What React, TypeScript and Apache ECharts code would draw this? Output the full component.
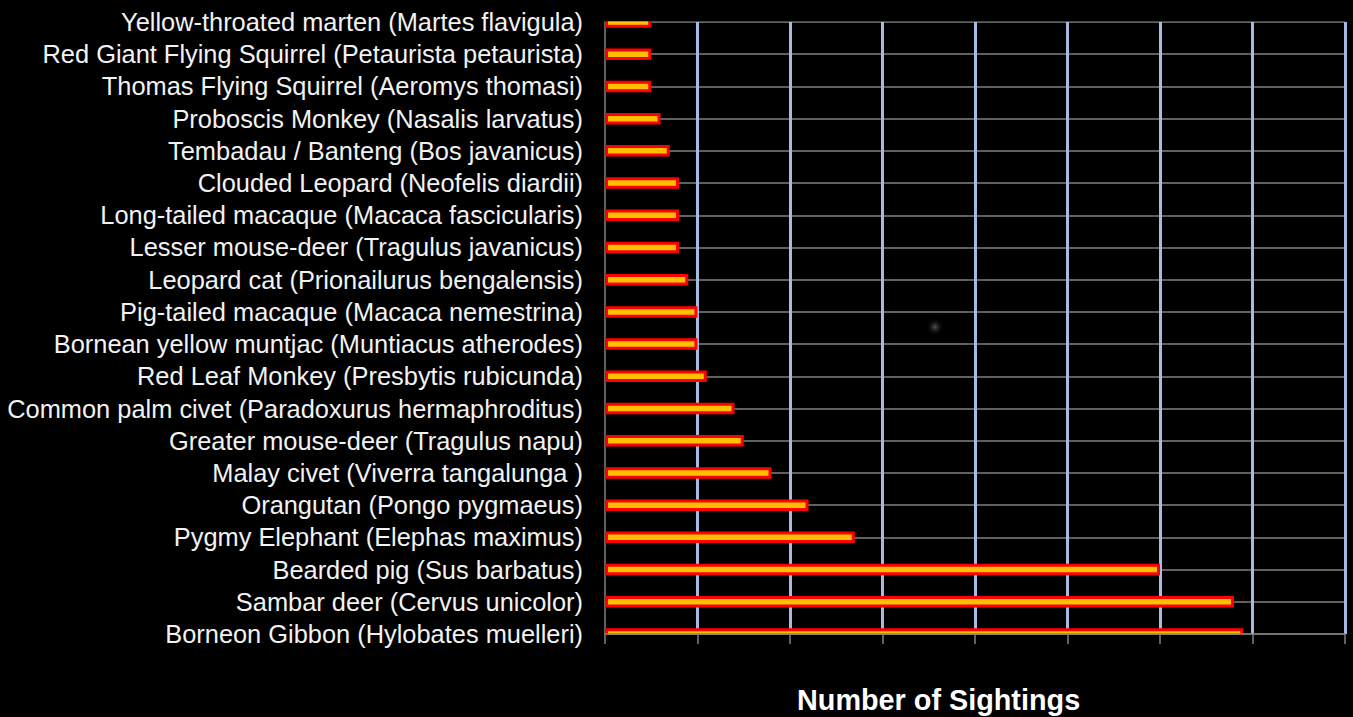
import React, { useEffect, useRef } from "react";
import * as echarts from "echarts";

const categories: string[] = [
  "Yellow-throated marten (Martes flavigula)",
  "Red Giant Flying Squirrel (Petaurista petaurista)",
  "Thomas Flying Squirrel (Aeromys thomasi)",
  "Proboscis Monkey (Nasalis larvatus)",
  "Tembadau / Banteng (Bos javanicus)",
  "Clouded Leopard (Neofelis diardii)",
  "Long-tailed macaque (Macaca fascicularis)",
  "Lesser mouse-deer (Tragulus javanicus)",
  "Leopard cat (Prionailurus bengalensis)",
  "Pig-tailed macaque (Macaca nemestrina)",
  "Bornean yellow muntjac (Muntiacus atherodes)",
  "Red Leaf Monkey (Presbytis rubicunda)",
  "Common palm civet (Paradoxurus hermaphroditus)",
  "Greater mouse-deer (Tragulus napu)",
  "Malay civet (Viverra tangalunga )",
  "Orangutan (Pongo pygmaeus)",
  "Pygmy Elephant (Elephas maximus)",
  "Bearded pig (Sus barbatus)",
  "Sambar deer (Cervus unicolor)",
  "Borneon Gibbon (Hylobates muelleri)",
];

const sightings: number[] = [5, 5, 5, 6, 7, 8, 8, 8, 9, 10, 10, 11, 14, 15, 18, 22, 27, 60, 68, 69];

const axisMin = 0;
const axisMax = 80;
const axisInterval = 10;
const xTitle = "Number of Sightings";

export default function App() {
  const ref = useRef<HTMLDivElement>(null);
  useEffect(() => {
    if (!ref.current) return;
    const chart = echarts.init(ref.current, null, { renderer: "svg" });
    chart.setOption({
      animation: false,
      backgroundColor: "#000000",
      grid: { left: 605, right: 8, top: 22, bottom: 83, containLabel: false },
      title: {
        text: xTitle,
        left: 797,
        top: 685,
        padding: 0,
        textStyle: {
          color: "#FFFFFF",
          fontSize: 28.8,
          fontWeight: "bold",
          fontFamily: "Liberation Sans, Arial, sans-serif",
        },
      },
      graphic: [
        {
          type: "circle",
          shape: { cx: 935, cy: 327, r: 9 },
          silent: true,
          z: 0,
          style: {
            fill: {
              type: "radial",
              x: 0.5,
              y: 0.5,
              r: 0.5,
              colorStops: [
                { offset: 0, color: "rgba(90,90,90,0.9)" },
                { offset: 1, color: "rgba(0,0,0,0)" },
              ],
            },
          },
        },
        {
          type: "rect",
          silent: true,
          z: 10,
          shape: { x: 600, y: 0, width: 753, height: 21.2 },
          style: { fill: "#000000" },
        },
        {
          type: "rect",
          silent: true,
          z: 10,
          shape: { x: 600, y: 634.8, width: 753, height: 40 },
          style: { fill: "#000000" },
        },
      ],
      xAxis: [
        {
          type: "value",
          min: axisMin,
          max: axisMax,
          interval: axisInterval,
          axisLabel: { show: false },
          axisLine: { show: false },
          axisTick: { show: false },
          splitLine: {
            show: true,
            showMinLine: false,
            lineStyle: { color: "#A6BBE0", width: 3 },
          },
        },
        {
          type: "value",
          position: "bottom",
          min: axisMin,
          max: axisMax,
          interval: axisInterval,
          z: 20,
          axisLabel: { show: false },
          axisLine: { show: true, lineStyle: { color: "#808080", width: 1.5 } },
          axisTick: { show: true, length: 10, lineStyle: { color: "#808080", width: 1.5 } },
          splitLine: { show: false },
        },
      ],
      yAxis: {
        type: "category",
        data: categories,
        inverse: true,
        boundaryGap: false,
        axisLine: { show: true, lineStyle: { color: "#808080", width: 1.5 } },
        axisTick: { show: false },
        splitLine: { show: true, lineStyle: { color: "#808080", width: 1.5 } },
        axisLabel: {
          color: "#F2F2F2",
          fontSize: 25.4,
          fontFamily: "Liberation Sans, Arial, sans-serif",
          margin: 22,
          interval: 0,
        },
      },
      series: [
        {
          type: "bar",
          xAxisIndex: 0,
          data: sightings,
          barWidth: 11.5,
          clip: false,
          itemStyle: {
            color: "#FFC000",
            borderColor: "#FF0000",
            borderWidth: 3,
          },
        },
      ],
    });
    return () => chart.dispose();
  }, []);
  return (
    <div
      ref={ref}
      style={{ position: "absolute", left: 0, top: 0, width: 1353, height: 717, background: "#000" }}
    />
  );
}
